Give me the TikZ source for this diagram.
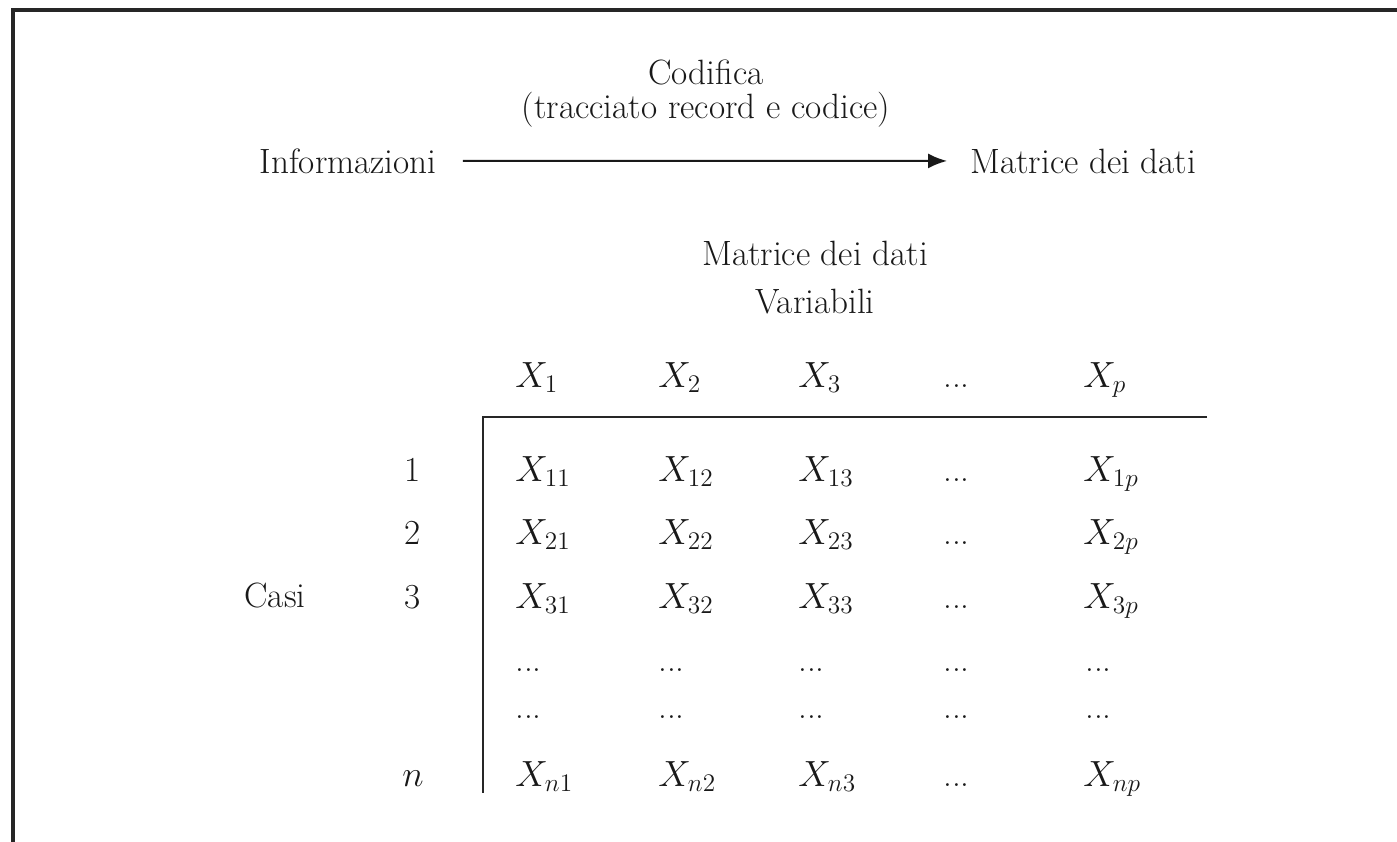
\documentclass[tikz,border=0pt]{standalone}
\usepackage{fontspec}
\usetikzlibrary{arrows.meta}
\tikzset{
  txt/.style={inner sep=0pt, font=\fontsize{20}{24}\selectfont, text=black!90},
  cell/.style={txt, anchor=base west},
  lab/.style={txt, anchor=base},
  rule/.style={line width=0.9pt, black!85},
  frame/.style={line width=2.3pt, black!85},
  arr/.style={line width=1.1pt, black!90, -{Latex[length=0.38cm,width=0.3cm]}}
}
\begin{document}
\begin{tikzpicture}[x=0.02cm,y=-0.02cm]
\useasboundingbox (0,0) rectangle (1397,842);
\fill[white] (0,0) rectangle (1397,842);
\draw[frame] (13,10) rectangle (1430,880);

% top flow
\node[txt] (cod) at (706,72) {Codifica};
\node[txt] (trac) at (706,110) {(tracciato record e codice)};
\node[txt, anchor=base east] (info) at (437,173) {Informazioni};
\node[txt, anchor=base west] (mat) at (970,173) {Matrice dei dati};
\draw[arr, shorten <=0.52cm, shorten >=0.46cm] (info.east) -- (mat.west);

% matrix titles
\node[txt] (mtitle) at (815,253) {Matrice dei dati};
\node[txt] (var) at (815,302) {Variabili};

% header
\node[cell] (h1) at (515,387) {$X_1$};
\node[cell] (h2) at (658,387) {$X_2$};
\node[cell] (h3) at (798,387) {$X_3$};
\node[cell] (h4) at (943,387) {...};
\node[cell] (hp) at (1083,387) {$X_p$};

% rules
\coordinate (tl) at (483,417);
\coordinate (tr) at (1207,417);
\coordinate (bl) at (483,793);
\draw[rule] (tr) -- (tl) -- (bl);

% row labels
\node[txt, anchor=base] (casi) at (275,607) {Casi};
\node[lab] (r1) at (413,481) {1};
\node[lab] (r2) at (413,544) {2};
\node[lab] (r3) at (413,608) {3};
\node[lab] (rn) at (413,786) {$n$};

% rows
\node[cell] (a11) at (515,481) {$X_{11}$};
\node[cell] (a12) at (658,481) {$X_{12}$};
\node[cell] (a13) at (798,481) {$X_{13}$};
\node[cell] (a14) at (943,481) {...};
\node[cell] (a1p) at (1083,481) {$X_{1p}$};

\node[cell] (a21) at (515,544) {$X_{21}$};
\node[cell] (a22) at (658,544) {$X_{22}$};
\node[cell] (a23) at (798,544) {$X_{23}$};
\node[cell] (a24) at (943,544) {...};
\node[cell] (a2p) at (1083,544) {$X_{2p}$};

\node[cell] (a31) at (515,608) {$X_{31}$};
\node[cell] (a32) at (658,608) {$X_{32}$};
\node[cell] (a33) at (798,608) {$X_{33}$};
\node[cell] (a34) at (943,608) {...};
\node[cell] (a3p) at (1083,608) {$X_{3p}$};

\node[cell] (d11) at (515,671) {...};
\node[cell] (d12) at (658,671) {...};
\node[cell] (d13) at (798,671) {...};
\node[cell] (d14) at (943,671) {...};
\node[cell] (d15) at (1085,671) {...};

\node[cell] (d21) at (515,718) {...};
\node[cell] (d22) at (658,718) {...};
\node[cell] (d23) at (798,718) {...};
\node[cell] (d24) at (943,718) {...};
\node[cell] (d25) at (1085,718) {...};

\node[cell] (an1) at (515,786) {$X_{n1}$};
\node[cell] (an2) at (658,786) {$X_{n2}$};
\node[cell] (an3) at (798,786) {$X_{n3}$};
\node[cell] (an4) at (943,786) {...};
\node[cell] (anp) at (1083,786) {$X_{np}$};
\end{tikzpicture}
\end{document}
